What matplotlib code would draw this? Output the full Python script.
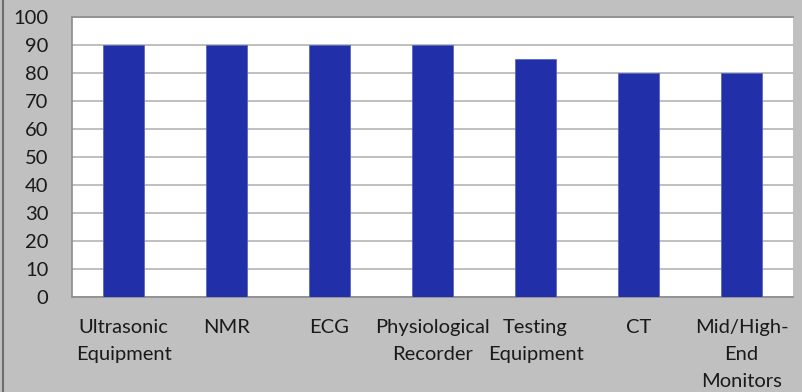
import matplotlib.pyplot as plt
from matplotlib.lines import Line2D

categories = ["Ultrasonic\nEquipment", "NMR", "ECG", "Physiological\nRecorder",
              "Testing\nEquipment", "CT", "Mid/High-\nEnd\nMonitors"]
values = [90, 90, 90, 90, 85, 80, 80]

plt.rcParams['font.family'] = ['Lato', 'DejaVu Sans']

W, H = 802, 392
fig = plt.figure(figsize=(W / 100, H / 100), dpi=100, facecolor="#c0c0c0")
ax = fig.add_axes([72 / W, (H - 297) / H, 721 / W, 280 / H])
ax.set_facecolor("white")

x = range(len(values))
ax.bar(x, values, width=0.4, color="#2130a8", edgecolor="#5a66c0", linewidth=0.6, zorder=3)

ax.set_xlim(-0.5, len(values) - 0.5)
ax.set_ylim(0, 100)
ax.set_yticks(range(0, 101, 10))
ax.yaxis.grid(True, color="#b4b4b4", linewidth=1.2, zorder=0)
ax.set_xticks(list(x))
ax.set_xticklabels(categories, linespacing=1.72, va="top")
ax.tick_params(axis="both", length=0, labelsize=14.5, colors="#1a1a1a")
ax.tick_params(axis="x", pad=16)
ax.tick_params(axis="y", pad=17)

for side in ["top", "left", "right", "bottom"]:
    ax.spines[side].set_color("#8c8c8c")
    ax.spines[side].set_linewidth(1.2)
ax.spines["right"].set_visible(False)

# thin dark frame edge on the left
fig.add_artist(Line2D([2.5 / W, 2.5 / W], [0, 1], color="#6e6e6e", linewidth=1.5,
                      transform=fig.transFigure))

fig.savefig("out.png", dpi=100, facecolor=fig.get_facecolor())
